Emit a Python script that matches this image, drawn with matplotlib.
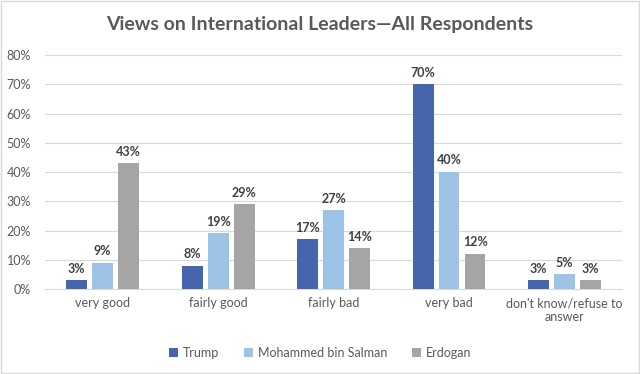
import numpy as np
import matplotlib
matplotlib.use("Agg")
import matplotlib.pyplot as plt
from matplotlib.patches import Rectangle
from matplotlib.ticker import PercentFormatter

# Данные графика
categories = ["very good", "fairly good", "fairly bad", "very bad",
              "don't know/refuse to\nanswer"]
series_names = ["Trump", "Mohammed bin Salman", "Erdogan"]
trump = [3, 8, 17, 70, 3]
mbs = [9, 19, 27, 40, 5]
erdogan = [43, 29, 14, 12, 3]
colors = ["#4565AD", "#9DC3E6", "#A5A5A5"]

plt.rcParams['font.family'] = ['Lato', 'DejaVu Sans']

fig = plt.figure(figsize=(6.4, 3.74), dpi=100)
ax = fig.add_axes([0.0703, 0.227, 0.902, 0.626])

x = np.arange(len(categories))
width = 0.18
step = 0.225
for i, (name, vals) in enumerate(zip(series_names, [trump, mbs, erdogan])):
    pos = x + (i - 1) * step
    bars = ax.bar(pos, vals, width, color=colors[i], label=name, zorder=3)
    for b, v in zip(bars, vals):
        ax.annotate(f"{v}%", (b.get_x() + b.get_width() / 2, v),
                    xytext=(0, 4), textcoords="offset points",
                    ha="center", va="bottom", fontsize=9,
                    fontweight="bold", color="#404040")

ax.set_xlim(-0.5, len(categories) - 0.5)
ax.set_ylim(0, 80)
ax.set_yticks(range(0, 81, 10))
ax.yaxis.set_major_formatter(PercentFormatter(decimals=0))
ax.set_xticks(x)
ax.set_xticklabels(categories)
ax.grid(axis="y", color="#D9D9D9", linewidth=0.8, zorder=0)
for s in ["top", "right", "left"]:
    ax.spines[s].set_visible(False)
ax.spines["bottom"].set_color("#D9D9D9")
ax.tick_params(axis="both", length=0, colors="#595959", labelsize=9)
ax.tick_params(axis="x", pad=6)
ax.tick_params(axis="y", pad=10)

fig.suptitle("Views on International Leaders\u2014All Respondents",
             y=0.958, fontsize=14, fontweight="bold", color="#595959")

fig.legend(loc="lower center", ncol=3, frameon=False, fontsize=9,
           bbox_to_anchor=(0.5, 0.01), handlelength=0.7, handleheight=0.7,
           columnspacing=2.0, handletextpad=0.4, labelcolor="#595959")

# Рамка вокруг рисунка
fig.patches.append(Rectangle((0.002, 0.003), 0.996, 0.994, transform=fig.transFigure,
                             fill=False, edgecolor="#D9D9D9", linewidth=1))

fig.savefig("out.png", dpi=100)
